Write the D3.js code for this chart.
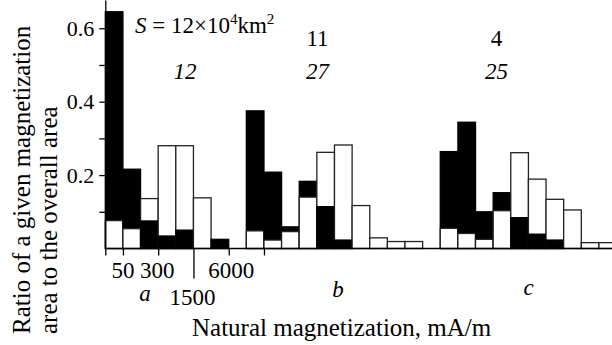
<!DOCTYPE html>
<html>
<head>
<meta charset="utf-8">
<script src="https://cdn.jsdelivr.net/npm/d3@7"></script>
<style>
  body { margin: 0; background: #fff; }
</style>
</head>
<body>
<svg width="612" height="345"></svg>
<script>
// share of area per magnetization bin (bins run left to right, groups a, b, c)
const blackVals = [0.645, 0.216, 0.075, 0.034, 0.050, 0, 0.025, 0,
  0.375, 0.208, 0.059, 0.183, 0.114, 0.023, 0, 0, 0, 0, 0,
  0.264, 0.344, 0.100, 0.152, 0.084, 0.039, 0.023, 0, 0, 0]
const whiteVals = [0.076, 0.054, 0.136, 0.280, 0.280, 0.138, 0, 0,
  0.048, 0.023, 0.046, 0.140, 0.262, 0.282, 0.117, 0.029, 0.019, 0.019, 0,
  0.055, 0.041, 0.025, 0.103, 0.261, 0.189, 0.134, 0.105, 0.016, 0.016]
const groupNames = ['a', 'b', 'c']
const topCounts = ['', '11', '4']
const italicCounts = ['12', '27', '25']
const xTickBins = [0, 1, 3, 5, 7, 9]
const xTickLabels = ['', '50', '300', '1500', '6000', '']
const yTickVals = [0.1, 0.2, 0.3, 0.4, 0.5, 0.6]

const serif = 'Liberation Serif'

let svg = d3.select('svg')
let x0 = 105.3
let binW = 17.63
let baseY = 248.5

// Define scales
let xScale = d3.scaleLinear()
    .domain([0, blackVals.length])
    .range([x0, x0 + blackVals.length * binW])
let yScale = d3.scaleLinear()
    .domain([0, 0.677])
    .range([baseY, 0])

// bars: larger value drawn first, smaller one in front
let rects = []
blackVals.forEach((b, i) => {
    let pair = [{ i: i, v: b, fill: '#000' }, { i: i, v: whiteVals[i], fill: '#fff' }]
    pair.sort((p, q) => q.v - p.v)
    pair.forEach(p => { if (p.v > 0) rects.push(p) })
})

svg.append('g')
    .selectAll('rect')
    .data(rects)
    .enter()
    .append('rect')
    .attr('x', d => xScale(d.i))
    .attr('y', d => yScale(d.v))
    .attr('width', binW)
    .attr('height', d => baseY - yScale(d.v))
    .attr('fill', d => d.fill)
    .attr('stroke', d => d.fill == '#000' ? '#000' : '#222')
    .attr('stroke-width', 1.3)

// Y axis
let yAxis = d3.axisLeft(yScale)
    .tickValues(yTickVals)
    .tickSize(6)
    .tickSizeOuter(0)
    .tickFormat(d => (Math.round(d * 10) % 2 == 0) ? d3.format('.1f')(d) : '')
let gy = svg.append('g')
    .attr('transform', 'translate(' + x0 + ',0)')
    .call(yAxis)
    .attr('font-family', serif)
    .attr('font-size', 22)
gy.selectAll('text').attr('x', -11).attr('fill', '#000')
gy.selectAll('line, path').attr('stroke', '#000').attr('stroke-width', 1.3)

// X baseline and ticks
let xAxis = d3.axisBottom(xScale)
    .tickValues(xTickBins)
    .tickSize(7)
    .tickSizeOuter(0)
    .tickFormat('')
let gx = svg.append('g')
    .attr('transform', 'translate(0,' + baseY + ')')
    .call(xAxis)
gx.select('.domain').attr('d', 'M' + x0 + ',0H612')
gx.selectAll('line, path').attr('stroke', '#000').attr('stroke-width', 1.3)
gx.selectAll('.tick line').filter(d => d == 5).attr('y2', 30)

function addText(x, y, size, t, italic) {
    return svg.append('text')
        .attr('x', x)
        .attr('y', y)
        .attr('text-anchor', 'middle')
        .attr('font-family', serif)
        .attr('font-size', size)
        .attr('font-style', italic ? 'italic' : 'normal')
        .text(t)
}

let labelPos = { '50': [0, 29], '300': [-1, 29], '6000': [2.5, 29], '1500': [-1, 56] }
xTickBins.forEach((b, k) => {
    let t = xTickLabels[k]
    if (!t) return
    addText(xScale(b) + labelPos[t][0], baseY + labelPos[t][1], 23, t, false)
})

// group letters under the bars
let groupX = [145, 338, 528.5]
let groupY = [301, 297, 295]
groupNames.forEach((g, k) => addText(groupX[k], groupY[k], 23, g, true))

// counts above groups
let countX = [185, 317.5, 496.5]
topCounts.forEach((c, k) => { if (c) addText(countX[k], 46, 23, c, false) })
italicCounts.forEach((c, k) => addText(countX[k], 79, 23, c, true))

// area note
let note = svg.append('text')
    .attr('x', 135)
    .attr('y', 33)
    .attr('font-family', serif)
    .attr('font-size', 23)
note.append('tspan').attr('font-style', 'italic').text('S')
note.append('tspan').text(' = 12\u00d710')
note.append('tspan').attr('dy', -9).attr('font-size', 15).text('4')
note.append('tspan').attr('dy', 9).text('km')
note.append('tspan').attr('dy', -9).attr('font-size', 15).text('2')

// axis titles
svg.append('text')
    .attr('x', 192)
    .attr('y', 336)
    .attr('font-family', serif)
    .attr('font-size', 25)
    .text('Natural magnetization, mA/m')

let yTitle = ['Ratio of a given magnetization', 'area to the overall area']
let yTitleX = [30, 57]
yTitle.forEach((t, k) => {
    svg.append('text')
        .attr('transform', 'translate(' + yTitleX[k] + ',334) rotate(-90)')
        .attr('font-family', serif)
        .attr('font-size', 25)
        .text(t)
})
</script>
</body>
</html>
